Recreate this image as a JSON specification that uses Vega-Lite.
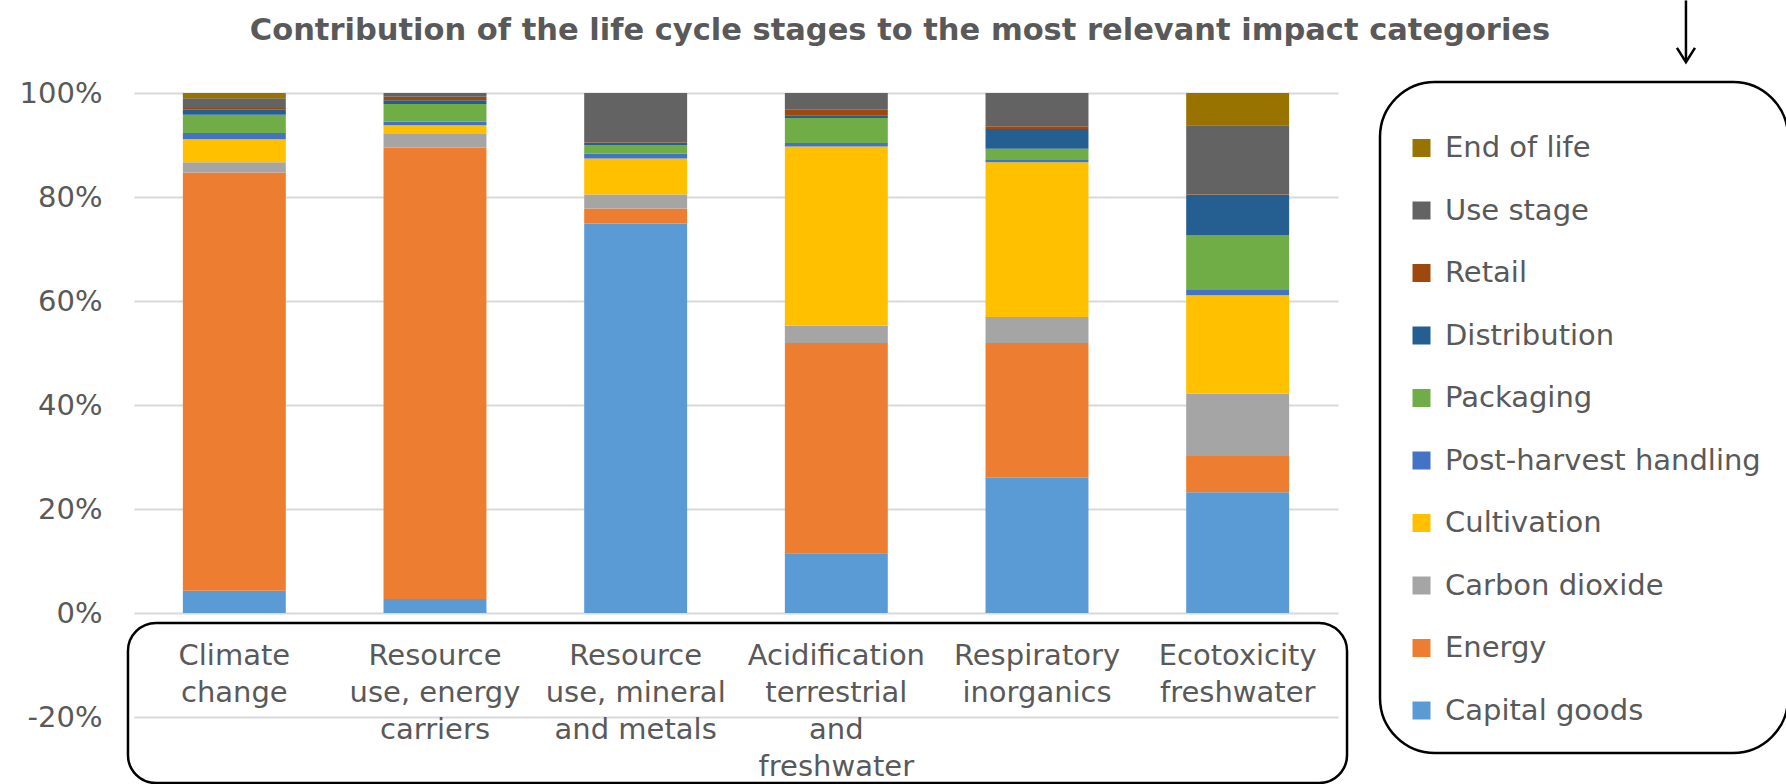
{
  "$schema": "https://vega.github.io/schema/vega-lite/v6.json",
  "width": 1204,
  "height": 624,
  "autosize": {"type": "none"},
  "padding": {"left": 134, "top": 93, "right": 448, "bottom": 67},
  "background": "white",
  "title": {
    "text": "Contribution of the life cycle stages to the most relevant impact categories",
    "anchor": "middle",
    "frame": "group",
    "dx": 164,
    "font": "DejaVu Sans",
    "fontSize": 30.5,
    "fontWeight": "bold",
    "color": "#595959",
    "baseline": "alphabetic",
    "offset": -71
  },
  "resolve": {"scale": {"x": "independent"}, "axis": {"x": "independent"}},
  "layer": [
    {
      "data": {
        "values": [
          {"category": "Climate change", "stage": "Capital goods", "step": 1, "value": 0.043},
          {"category": "Climate change", "stage": "Energy", "step": 2, "value": 0.804},
          {"category": "Climate change", "stage": "Carbon dioxide", "step": 3, "value": 0.020},
          {"category": "Climate change", "stage": "Cultivation", "step": 4, "value": 0.044},
          {"category": "Climate change", "stage": "Post-harvest handling", "step": 5, "value": 0.012},
          {"category": "Climate change", "stage": "Packaging", "step": 6, "value": 0.035},
          {"category": "Climate change", "stage": "Distribution", "step": 7, "value": 0.010},
          {"category": "Climate change", "stage": "Retail", "step": 8, "value": 0.003},
          {"category": "Climate change", "stage": "Use stage", "step": 9, "value": 0.019},
          {"category": "Climate change", "stage": "End of life", "step": 10, "value": 0.010},
          {"category": "Resource use, energy carriers", "stage": "Capital goods", "step": 1, "value": 0.027},
          {"category": "Resource use, energy carriers", "stage": "Energy", "step": 2, "value": 0.868},
          {"category": "Resource use, energy carriers", "stage": "Carbon dioxide", "step": 3, "value": 0.026},
          {"category": "Resource use, energy carriers", "stage": "Cultivation", "step": 4, "value": 0.017},
          {"category": "Resource use, energy carriers", "stage": "Post-harvest handling", "step": 5, "value": 0.007},
          {"category": "Resource use, energy carriers", "stage": "Packaging", "step": 6, "value": 0.034},
          {"category": "Resource use, energy carriers", "stage": "Distribution", "step": 7, "value": 0.007},
          {"category": "Resource use, energy carriers", "stage": "Retail", "step": 8, "value": 0.007},
          {"category": "Resource use, energy carriers", "stage": "Use stage", "step": 9, "value": 0.007},
          {"category": "Resource use, mineral and metals", "stage": "Capital goods", "step": 1, "value": 0.749},
          {"category": "Resource use, mineral and metals", "stage": "Energy", "step": 2, "value": 0.029},
          {"category": "Resource use, mineral and metals", "stage": "Carbon dioxide", "step": 3, "value": 0.027},
          {"category": "Resource use, mineral and metals", "stage": "Cultivation", "step": 4, "value": 0.069},
          {"category": "Resource use, mineral and metals", "stage": "Post-harvest handling", "step": 5, "value": 0.009},
          {"category": "Resource use, mineral and metals", "stage": "Packaging", "step": 6, "value": 0.017},
          {"category": "Resource use, mineral and metals", "stage": "Distribution", "step": 7, "value": 0.005},
          {"category": "Resource use, mineral and metals", "stage": "Retail", "step": 8, "value": 0.001},
          {"category": "Resource use, mineral and metals", "stage": "Use stage", "step": 9, "value": 0.094},
          {"category": "Acidification terrestrial and freshwater", "stage": "Capital goods", "step": 1, "value": 0.115},
          {"category": "Acidification terrestrial and freshwater", "stage": "Energy", "step": 2, "value": 0.404},
          {"category": "Acidification terrestrial and freshwater", "stage": "Carbon dioxide", "step": 3, "value": 0.034},
          {"category": "Acidification terrestrial and freshwater", "stage": "Cultivation", "step": 4, "value": 0.344},
          {"category": "Acidification terrestrial and freshwater", "stage": "Post-harvest handling", "step": 5, "value": 0.007},
          {"category": "Acidification terrestrial and freshwater", "stage": "Packaging", "step": 6, "value": 0.048},
          {"category": "Acidification terrestrial and freshwater", "stage": "Distribution", "step": 7, "value": 0.005},
          {"category": "Acidification terrestrial and freshwater", "stage": "Retail", "step": 8, "value": 0.011},
          {"category": "Acidification terrestrial and freshwater", "stage": "Use stage", "step": 9, "value": 0.032},
          {"category": "Respiratory inorganics", "stage": "Capital goods", "step": 1, "value": 0.260},
          {"category": "Respiratory inorganics", "stage": "Energy", "step": 2, "value": 0.259},
          {"category": "Respiratory inorganics", "stage": "Carbon dioxide", "step": 3, "value": 0.050},
          {"category": "Respiratory inorganics", "stage": "Cultivation", "step": 4, "value": 0.298},
          {"category": "Respiratory inorganics", "stage": "Post-harvest handling", "step": 5, "value": 0.004},
          {"category": "Respiratory inorganics", "stage": "Packaging", "step": 6, "value": 0.022},
          {"category": "Respiratory inorganics", "stage": "Distribution", "step": 7, "value": 0.038},
          {"category": "Respiratory inorganics", "stage": "Retail", "step": 8, "value": 0.005},
          {"category": "Respiratory inorganics", "stage": "Use stage", "step": 9, "value": 0.064},
          {"category": "Ecotoxicity freshwater", "stage": "Capital goods", "step": 1, "value": 0.232},
          {"category": "Ecotoxicity freshwater", "stage": "Energy", "step": 2, "value": 0.070},
          {"category": "Ecotoxicity freshwater", "stage": "Carbon dioxide", "step": 3, "value": 0.120},
          {"category": "Ecotoxicity freshwater", "stage": "Cultivation", "step": 4, "value": 0.189},
          {"category": "Ecotoxicity freshwater", "stage": "Post-harvest handling", "step": 5, "value": 0.010},
          {"category": "Ecotoxicity freshwater", "stage": "Packaging", "step": 6, "value": 0.105},
          {"category": "Ecotoxicity freshwater", "stage": "Distribution", "step": 7, "value": 0.078},
          {"category": "Ecotoxicity freshwater", "stage": "Retail", "step": 8, "value": 0.001},
          {"category": "Ecotoxicity freshwater", "stage": "Use stage", "step": 9, "value": 0.133},
          {"category": "Ecotoxicity freshwater", "stage": "End of life", "step": 10, "value": 0.062}
        ]
      },
      "mark": {"type": "bar"},
      "encoding": {
        "x": {
          "field": "category",
          "type": "nominal",
          "sort": null,
          "scale": {"paddingInner": 0.487, "paddingOuter": 0.2435},
          "axis": {
            "title": null,
            "labelAngle": 0,
            "ticks": false,
            "tickSize": 0,
            "domain": false,
            "offset": -104,
            "labelPadding": 28,
            "labelBaseline": "top",
            "labelFont": "DejaVu Sans",
            "labelFontSize": 29,
            "labelColor": "#595959",
            "labelLineHeight": 37,
            "labelLimit": 400,
            "labelExpr": "datum.value == 'Climate change' ? ['Climate','change'] : datum.value == 'Resource use, energy carriers' ? ['Resource','use, energy','carriers'] : datum.value == 'Resource use, mineral and metals' ? ['Resource','use, mineral','and metals'] : datum.value == 'Acidification terrestrial and freshwater' ? ['Acidification','terrestrial','and','freshwater'] : datum.value == 'Respiratory inorganics' ? ['Respiratory','inorganics'] : ['Ecotoxicity','freshwater']"
          }
        },
        "y": {
          "field": "value",
          "type": "quantitative",
          "stack": "zero",
          "scale": {"domain": [-0.2, 1.0], "nice": false, "zero": false},
          "axis": {
            "title": null,
            "values": [-0.2, 0, 0.2, 0.4, 0.6, 0.8, 1.0],
            "labelExpr": "(datum.value < 0 ? '-' : '') + format(abs(datum.value), '.0%')",
            "ticks": false,
            "tickSize": 0,
            "domain": false,
            "labelPadding": 32,
            "labelFont": "DejaVu Sans",
            "labelFontSize": 29,
            "labelColor": "#595959",
            "grid": true,
            "gridColor": "#d9d9d9",
            "gridWidth": 2
          }
        },
        "order": {"field": "step", "type": "quantitative", "sort": "ascending"},
        "color": {
          "field": "stage",
          "type": "nominal",
          "scale": {
            "domain": ["Capital goods", "Energy", "Carbon dioxide", "Cultivation", "Post-harvest handling", "Packaging", "Distribution", "Retail", "Use stage", "End of life"],
            "range": ["#5B9BD5", "#ED7D31", "#A5A5A5", "#FFC000", "#4472C4", "#70AD47", "#255E91", "#9E480E", "#636363", "#997300"]
          },
          "legend": {
            "values": ["End of life", "Use stage", "Retail", "Distribution", "Packaging", "Post-harvest handling", "Cultivation", "Carbon dioxide", "Energy", "Capital goods"],
            "orient": "none",
            "legendX": 1246,
            "legendY": -11,
            "title": " ",
            "titleFontSize": 14,
            "titlePadding": 10.5,
            "padding": 27,
            "strokeColor": "black",
            "cornerRadius": 55,
            "symbolType": "square",
            "symbolSize": 324,
            "symbolStrokeWidth": 0,
            "labelFont": "DejaVu Sans",
            "labelFontSize": 29,
            "labelColor": "#595959",
            "labelOffset": 9,
            "labelLimit": 400,
            "rowPadding": 32.5,
            "encode": {"legend": {"update": {"strokeWidth": {"value": 2.5}}}}
          }
        }
      }
    },
    {
      "data": {"values": [{}]},
      "mark": {"type": "rect", "filled": false, "color": "black", "strokeWidth": 2.5, "cornerRadius": 28},
      "encoding": {
        "x": {"datum": -0.03, "type": "quantitative", "scale": {"domain": [0, 6], "nice": false, "zero": false}, "axis": null},
        "x2": {"datum": 6.045},
        "y": {"datum": -0.019, "type": "quantitative", "title": null},
        "y2": {"datum": -0.327}
      }
    },
    {
      "data": {"values": [{}]},
      "mark": {"type": "rule", "color": "black", "strokeWidth": 2.5},
      "encoding": {
        "x": {"datum": 7.734, "type": "quantitative", "scale": {"domain": [0, 6], "nice": false, "zero": false}, "axis": null},
        "y": {"datum": 1.178, "type": "quantitative", "title": null},
        "y2": {"datum": 1.062}
      }
    },
    {
      "data": {"values": [{}]},
      "mark": {"type": "point", "shape": "M-1,-1.6L0,0L1,-1.6", "filled": false, "color": "black", "strokeWidth": 2.5, "size": 324, "opacity": 1},
      "encoding": {
        "x": {"datum": 7.734, "type": "quantitative", "scale": {"domain": [0, 6], "nice": false, "zero": false}, "axis": null},
        "y": {"datum": 1.0592, "type": "quantitative", "title": null}
      }
    }
  ],
  "config": {
    "view": {"stroke": null},
    "font": "DejaVu Sans"
  }
}
